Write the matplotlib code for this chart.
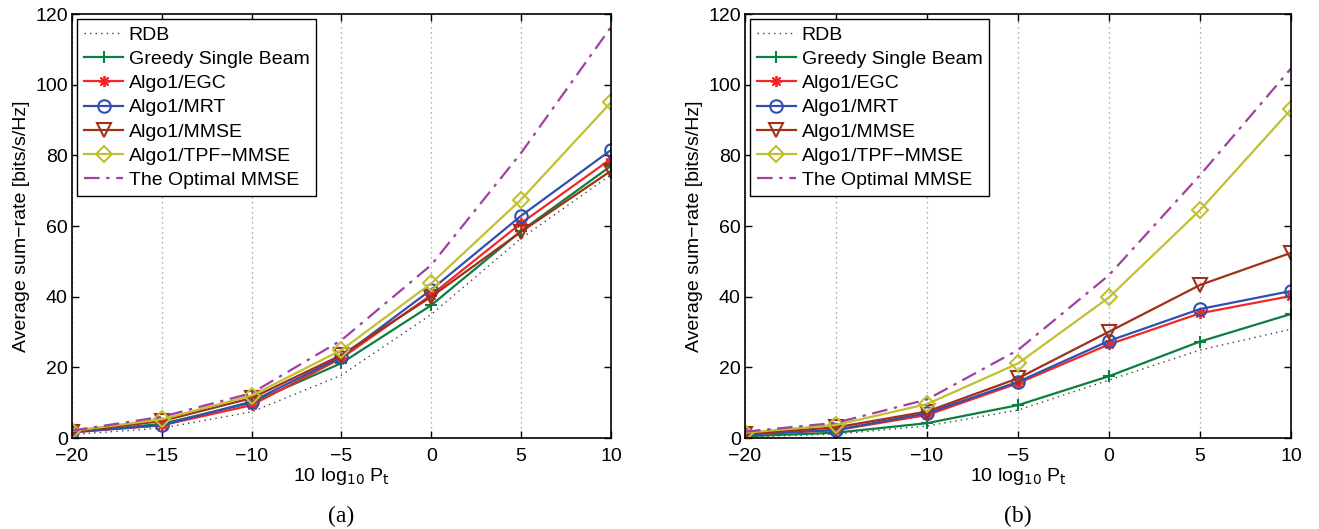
import matplotlib
matplotlib.use("Agg")
import matplotlib.pyplot as plt

plt.rcParams['font.family'] = ['Liberation Sans', 'DejaVu Sans']

x = [-20, -15, -10, -5, 0, 5, 10]
labels = ["RDB", "Greedy Single Beam", "Algo1/EGC", "Algo1/MRT",
          "Algo1/MMSE", "Algo1/TPF\u2212MMSE", "The Optimal MMSE"]

# Panel (a)
a_rdb = [1.0, 2.8, 7.4, 17.8, 35.0, 56.5, 74.5]
a_greedy = [1.6, 4.0, 10.0, 21.2, 37.6, 58.6, 77.0]
a_egc = [1.6, 3.6, 9.3, 22.6, 40.5, 60.8, 79.0]
a_mrt = [1.7, 3.6, 10.3, 23.0, 42.0, 62.9, 81.5]
a_mmse = [1.8, 4.8, 11.3, 23.5, 40.0, 58.4, 75.6]
a_tpf = [2.0, 5.3, 12.0, 24.9, 43.8, 67.5, 95.0]
a_opt = [2.1, 6.0, 12.7, 27.7, 49.0, 80.7, 116.3]

# Panel (b)
b_rdb = [0.3, 1.1, 3.4, 7.9, 16.4, 24.9, 30.8]
b_greedy = [0.5, 1.5, 4.2, 9.3, 17.5, 27.3, 35.1]
b_egc = [1.0, 2.2, 6.5, 15.5, 26.5, 35.3, 40.2]
b_mrt = [1.0, 2.3, 7.0, 15.9, 27.5, 36.5, 41.6]
b_mmse = [1.2, 3.0, 7.5, 16.9, 30.1, 43.3, 52.4]
b_tpf = [1.5, 3.7, 9.6, 21.1, 39.8, 64.5, 93.0]
b_opt = [1.8, 4.3, 10.9, 24.9, 46.1, 74.4, 104.6]

xticks = [-20, -15, -10, -5, 0, 5, 10]
yticks = [0, 20, 40, 60, 80, 100, 120]

styles = [
    dict(color='#404040', ls=(0, (1, 3)), lw=1.0, marker=None),
    dict(color='#0a8040', ls='-', lw=1.6, marker='+', ms=9, mew=1.5),
    dict(color='#f02828', ls='-', lw=1.6, marker=(8, 2, 0), ms=8, mew=1.3),
    dict(color='#3050b0', ls='-', lw=1.6, marker='o', ms=9, mfc='none', mew=1.5),
    dict(color='#a03018', ls='-', lw=1.6, marker='v', ms=10, mfc='none', mew=1.5),
    dict(color='#c0c030', ls='-', lw=1.6, marker='D', ms=8, mfc='none', mew=1.5),
    dict(color='#a040a0', ls=(0, (7, 3, 1.5, 3)), lw=1.6, marker=None),
]

FS = 14

fig = plt.figure(figsize=(13.19, 5.29), dpi=100)
ax1 = fig.add_axes([0.0546, 0.172, 0.4086, 0.8015])
ax2 = fig.add_axes([0.5648, 0.172, 0.414, 0.8015])

panels = [(ax1, [a_rdb, a_greedy, a_egc, a_mrt, a_mmse, a_tpf, a_opt], "(a)"),
          (ax2, [b_rdb, b_greedy, b_egc, b_mrt, b_mmse, b_tpf, b_opt], "(b)")]

for ax, series, cap in panels:
    for ys, lab, st in zip(series, labels, styles):
        st = dict(st)
        ax.plot(x, ys, label=lab, color=st.pop('color'), linestyle=st.pop('ls'),
                linewidth=st.pop('lw'), **st)
    ax.set_xlim(-20, 10)
    ax.set_ylim(0, 120)
    ax.set_xticks(xticks)
    ax.set_yticks(yticks)
    ax.set_xticklabels([str(v).replace('-', '\u2212') for v in xticks])
    ax.grid(axis='x', color='#909090', linestyle=(0, (1, 3)), linewidth=0.9)
    ax.tick_params(direction='in', top=True, right=True, labelsize=FS, length=5,
                   width=1)
    ax.tick_params(axis='x', pad=7)
    ax.tick_params(axis='y', pad=3)
    for s in ax.spines.values():
        s.set_linewidth(1.2)
    ax.set_xlabel(r"10 log$_{10}$ P$_{\mathrm{t}}$", fontsize=FS, labelpad=1)
    ax.set_ylabel("Average sum\u2212rate [bits/s/Hz]", fontsize=FS, labelpad=4)
    leg = ax.legend(loc='upper left', fontsize=FS, handlelength=2.0, borderpad=0.35,
                    labelspacing=0.34, handletextpad=0.3, fancybox=False,
                    edgecolor='black', framealpha=1, borderaxespad=0.27)
    leg.get_frame().set_linewidth(1.0)
    ax.text(0.5, -0.185, cap, transform=ax.transAxes, ha='center', va='center',
            fontsize=17, family='Liberation Serif')

fig.savefig("out.png", dpi=100)
